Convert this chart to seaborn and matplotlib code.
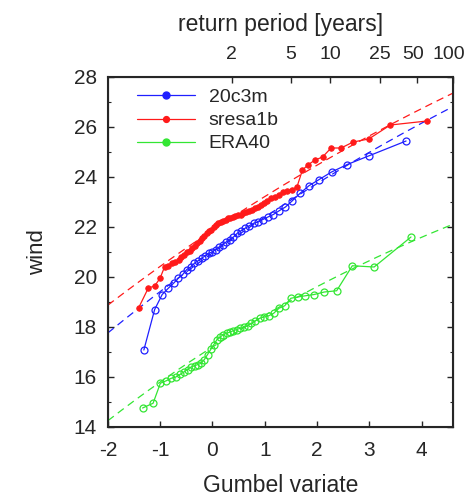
import numpy as np
import pandas as pd
import matplotlib
matplotlib.use("Agg")
import matplotlib.pyplot as plt
import matplotlib.transforms as mtransforms
from matplotlib.lines import Line2D
import seaborn as sns

# ---- data (annual maximum wind, sorted ascending) ----
series_names = ["20c3m", "sresa1b", "ERA40"]
series_colors = ["#1f1fff", "#ff1a1a", "#33e633"]

wind_20c3m = [17.08, 18.70, 19.30, 19.55, 19.75, 19.95, 20.10, 20.30, 20.40, 20.55,
              20.65, 20.75, 20.85, 20.95, 21.00, 21.10, 21.20, 21.30, 21.40, 21.50,
              21.60, 21.75, 21.85, 21.95, 22.05, 22.15, 22.20, 22.30, 22.40, 22.50,
              22.65, 22.80, 23.05, 23.35, 23.65, 23.90, 24.20, 24.50, 24.85, 25.44]

wind_sresa1b = [18.76, 19.55, 19.65, 19.95, 20.40, 20.45, 20.55, 20.60, 20.70, 20.80,
                20.90, 21.00, 21.05, 21.15, 21.25, 21.35, 21.45, 21.55, 21.65, 21.75,
                21.85, 21.90, 22.00, 22.10, 22.15, 22.20, 22.25, 22.30, 22.35, 22.35,
                22.40, 22.45, 22.50, 22.50, 22.55, 22.60, 22.65, 22.70, 22.75, 22.80,
                22.90, 22.95, 23.05, 23.15, 23.20, 23.30, 23.40, 23.45, 23.50, 23.60,
                24.28, 24.50, 24.68, 24.80, 25.16, 25.16, 25.40, 25.52, 26.08, 26.24]

wind_era40 = [14.76, 14.95, 15.75, 15.85, 15.95, 16.00, 16.10, 16.20, 16.30, 16.40,
              16.45, 16.50, 16.55, 16.70, 16.90, 17.10, 17.30, 17.50, 17.60, 17.70,
              17.75, 17.80, 17.85, 17.90, 17.95, 18.00, 18.05, 18.15, 18.25, 18.35,
              18.40, 18.45, 18.55, 18.75, 18.85, 19.15, 19.20, 19.25, 19.30, 19.40,
              19.45, 20.45, 20.40, 21.60]

# fitted GEV parameters (location, scale, shape)
fit_loc = [20.96, 21.87, 17.20]
fit_scale = [1.489, 1.395, 1.332]
fit_shape = [-0.07, -0.07, -0.10]

return_periods = [2, 5, 10, 25, 50, 100]
return_labels = ["2", "5", "10", "25", "50", "100"]

x_ticks = [-2, -1, 0, 1, 2, 3, 4]
y_ticks = [14, 16, 18, 20, 22, 24, 26, 28]
x_range = [-2, 4.6]
y_range = [14, 28]


def gumbel_positions(n):
    # Gumbel reduced variate of the empirical plotting positions i/(n+1)
    ranks = np.arange(1, n + 1)
    return -np.log(-np.log(ranks / (n + 1.0)))


def gev_quantile(xg, loc, scale, shape):
    if abs(shape) < 1e-9:
        return loc + scale * xg
    return loc + scale / shape * (np.exp(shape * xg) - 1.0)


rows = []
for name, vals in zip(series_names, [wind_20c3m, wind_sresa1b, wind_era40]):
    xs = gumbel_positions(len(vals))
    for xv, yv in zip(xs, vals):
        rows.append({"series": name, "gumbel": xv, "wind": yv})
df = pd.DataFrame(rows)

sns.set_style("ticks")
plt.rcParams["font.family"] = ["Liberation Sans", "DejaVu Sans"]
plt.rcParams["axes.unicode_minus"] = False

fig = plt.figure(figsize=(4.69, 5.0), dpi=100)
ax = fig.add_axes([0.230, 0.146, 0.736, 0.700])

xg = np.linspace(x_range[0], x_range[1], 200)
for i, name in enumerate(series_names):
    col = series_colors[i]
    sub = df[df["series"] == name]
    if name == "sresa1b":
        mk = dict(marker="o", markersize=4.0, markerfacecolor=col,
                  markeredgecolor=col, markeredgewidth=0.6)
    else:
        mk = dict(marker="o", markersize=5.0, markerfacecolor="none",
                  markeredgecolor=col, markeredgewidth=0.9)
    sns.lineplot(data=sub, x="gumbel", y="wind", ax=ax, color=col, lw=0.9,
                 estimator=None, sort=True, legend=False, **mk)
    fit = gev_quantile(xg, fit_loc[i], fit_scale[i], fit_shape[i])
    sns.lineplot(x=xg, y=fit, ax=ax, color=col, lw=0.9, linestyle=(0, (6, 4)),
                 estimator=None, legend=False)

ax.set_xlim(*x_range)
ax.set_ylim(*y_range)
ax.set_xticks(x_ticks)
ax.set_yticks(y_ticks)
ax.set_yticks(np.arange(15, 28, 2), minor=True)
ax.tick_params(axis="both", which="major", direction="in", length=4, width=1,
               labelsize=15, right=True, pad=8)
ax.tick_params(axis="x", which="major", pad=10)
ax.tick_params(axis="y", which="minor", direction="in", length=2, width=0.8, right=True)
ax.set_xlabel("Gumbel variate", fontsize=16.5, labelpad=10)
ax.set_ylabel("wind", fontsize=16, labelpad=18)
for sp in ax.spines.values():
    sp.set_linewidth(1.5)

top = ax.twiny()
top.set_xlim(*x_range)
top.set_xticks(-np.log(-np.log(1 - 1 / np.array(return_periods, dtype=float))))
top.set_xticklabels(return_labels)
top.tick_params(axis="x", direction="in", length=4, width=1, labelsize=14, pad=10)
top.set_xlabel("return period [years]", fontsize=16.5, labelpad=11)
# nudge the crowded end labels slightly apart, as in the reference
shift_px = {4: -3, 5: -4}
for idx, lab in enumerate(top.get_xticklabels()):
    if idx in shift_px:
        off = mtransforms.ScaledTranslation(shift_px[idx] / 100.0, 0, fig.dpi_scale_trans)
        lab.set_transform(lab.get_transform() + off)

handles = []
for i in range(3):
    handles.append(Line2D([], [], color=series_colors[i], lw=0.9, marker="o",
                          markersize=5 if i != 1 else 4.2,
                          markerfacecolor=series_colors[i],
                          markeredgecolor=series_colors[i]))
ax.legend(handles, series_names, loc="upper left", frameon=False, fontsize=14,
          handlelength=3.0, handletextpad=0.7, labelspacing=0.28,
          borderaxespad=0.2, bbox_to_anchor=(0.05, 1.0))

fig.savefig("out.png", dpi=100)
